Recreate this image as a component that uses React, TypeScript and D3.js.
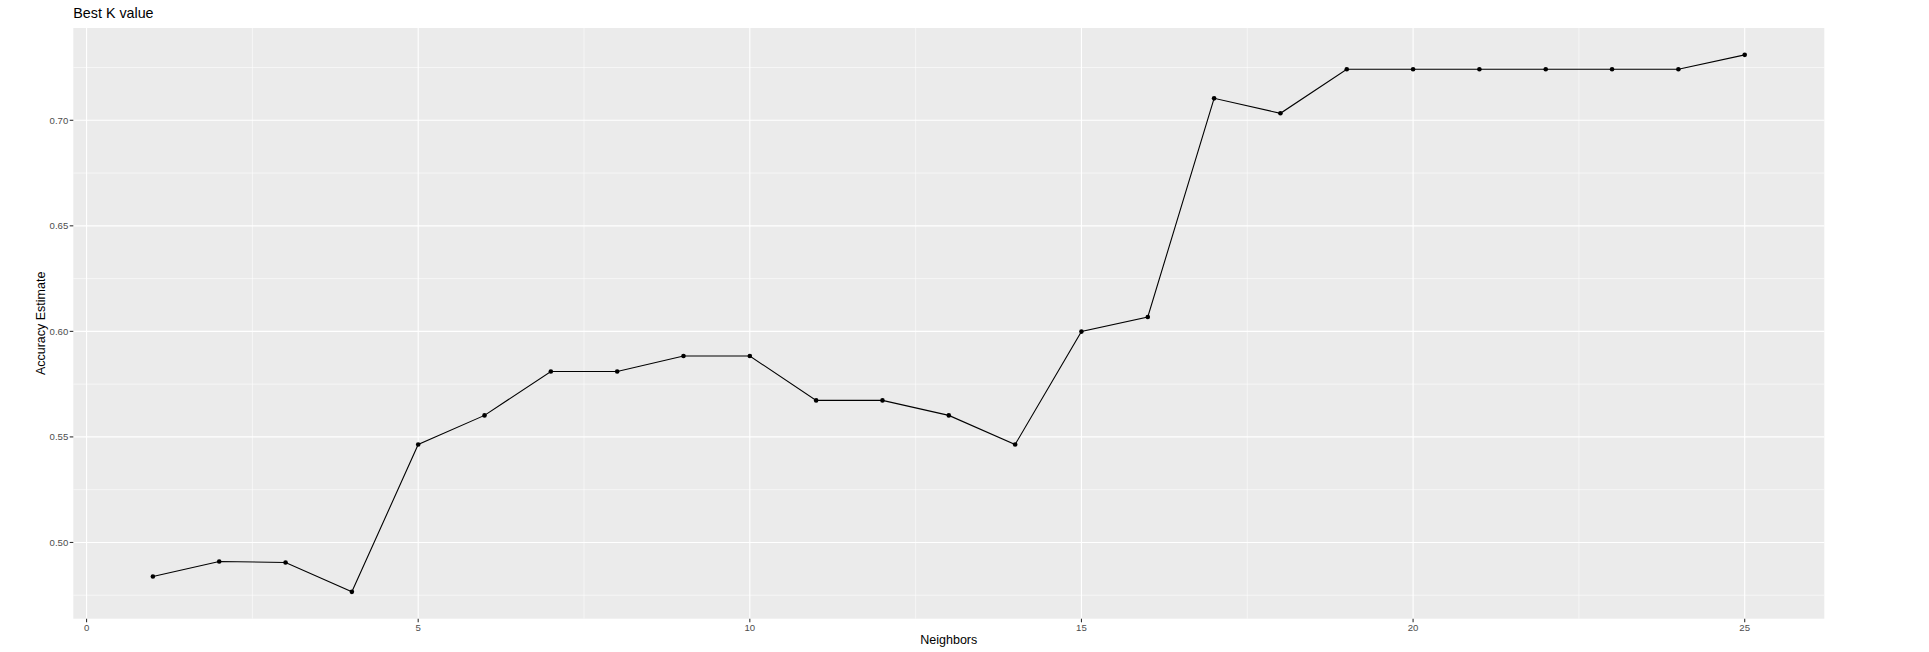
import * as d3 from "d3";

const neighbors = [1, 2, 3, 4, 5, 6, 7, 8, 9, 10, 11, 12, 13, 14, 15, 16, 17, 18, 19, 20, 21, 22, 23, 24, 25];
const accuracy = [
  0.4839, 0.491, 0.4905, 0.4766, 0.5464, 0.5602, 0.581, 0.581, 0.5883, 0.5883,
  0.5673, 0.5673, 0.5602, 0.5464, 0.5999, 0.6068, 0.7104, 0.7033, 0.7242, 0.7242,
  0.7242, 0.7242, 0.7242, 0.7242, 0.731,
];
const xTicks = [0, 5, 10, 15, 20, 25];
const xMinor = [2.5, 7.5, 12.5, 17.5, 22.5];
const yTicks = [0.5, 0.55, 0.6, 0.65, 0.7];
const yMinor = [0.475, 0.525, 0.575, 0.625, 0.675, 0.725];

export default function App() {
  const width = 1929;
  const height = 652;
  const panel = { left: 73.3, right: 1824.3, top: 28, bottom: 618.7 };

  const xExt = d3.extent(neighbors) as [number, number];
  const xPad = (xExt[1] - xExt[0]) * 0.05;
  const x = d3
    .scaleLinear()
    .domain([xExt[0] - xPad, xExt[1] + xPad])
    .range([panel.left, panel.right]);

  const yExt = d3.extent(accuracy) as [number, number];
  const yPad = (yExt[1] - yExt[0]) * 0.05;
  const y = d3
    .scaleLinear()
    .domain([yExt[0] - yPad, yExt[1] + yPad])
    .range([panel.bottom, panel.top]);

  const line = d3
    .line<number>()
    .x((_, i) => x(neighbors[i]))
    .y((d) => y(d));

  const font = "'Liberation Sans', Arial, sans-serif";
  const midX = (panel.left + panel.right) / 2;
  const midY = (panel.top + panel.bottom) / 2;

  return (
    <svg
      width={width}
      height={height}
      style={{ position: "absolute", left: 0, top: 0, background: "white" }}
      fontFamily={font}
    >
      <rect
        x={panel.left}
        y={panel.top}
        width={panel.right - panel.left}
        height={panel.bottom - panel.top}
        fill="#EBEBEB"
      />
      {/* minor grid */}
      {xMinor.map((t) => (
        <line key={"xm" + t} x1={x(t)} x2={x(t)} y1={panel.top} y2={panel.bottom} stroke="white" strokeWidth={0.55} />
      ))}
      {yMinor.map((t) => (
        <line key={"ym" + t} x1={panel.left} x2={panel.right} y1={y(t)} y2={y(t)} stroke="white" strokeWidth={0.55} />
      ))}
      {/* major grid */}
      {xTicks.map((t) => (
        <line key={"xg" + t} x1={x(t)} x2={x(t)} y1={panel.top} y2={panel.bottom} stroke="white" strokeWidth={1.1} />
      ))}
      {yTicks.map((t) => (
        <line key={"yg" + t} x1={panel.left} x2={panel.right} y1={y(t)} y2={y(t)} stroke="white" strokeWidth={1.1} />
      ))}

      <path d={line(accuracy) ?? ""} fill="none" stroke="black" strokeWidth={1.1} />
      {accuracy.map((d, i) => (
        <circle key={i} cx={x(neighbors[i])} cy={y(d)} r={2.3} fill="black" />
      ))}

      {/* x axis */}
      {xTicks.map((t) => (
        <g key={"xt" + t}>
          <line x1={x(t)} x2={x(t)} y1={panel.bottom} y2={panel.bottom + 3.6} stroke="#333333" strokeWidth={1.1} />
          <text x={x(t)} y={631} textAnchor="middle" fontSize={9.6} fill="#4D4D4D">
            {d3.format("d")(t)}
          </text>
        </g>
      ))}
      {/* y axis */}
      {yTicks.map((t) => (
        <g key={"yt" + t}>
          <line x1={panel.left - 3.6} x2={panel.left} y1={y(t)} y2={y(t)} stroke="#333333" strokeWidth={1.1} />
          <text x={panel.left - 5} y={y(t)} textAnchor="end" dominantBaseline="central" fontSize={9.6} fill="#4D4D4D">
            {d3.format(".2f")(t)}
          </text>
        </g>
      ))}

      <text x={midX} y={643.5} textAnchor="middle" fontSize={12.5} fill="black">
        Neighbors
      </text>
      <text
        x={45}
        y={midY}
        textAnchor="middle"
        fontSize={12.5}
        fill="black"
        transform={`rotate(-90, 45, ${midY})`}
      >
        Accuracy Estimate
      </text>
      <text x={panel.left} y={18.3} fontSize={14.3} fill="black">
        Best K value
      </text>
    </svg>
  );
}
